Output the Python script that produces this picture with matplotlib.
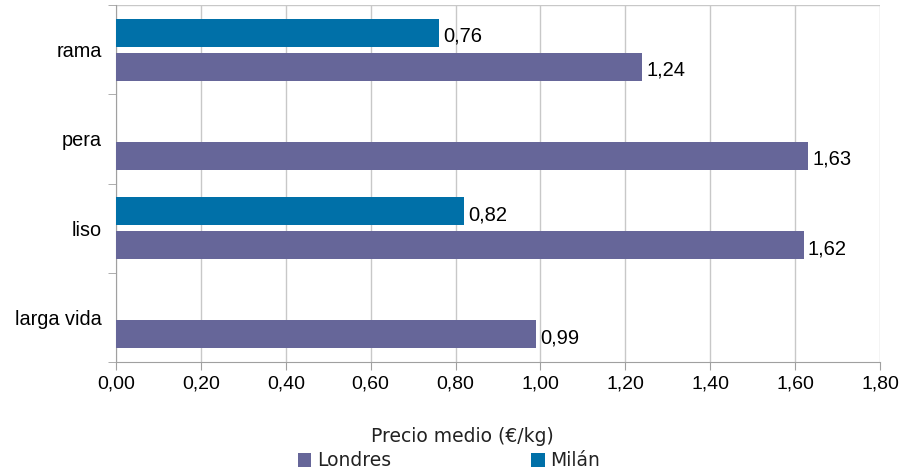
import matplotlib
matplotlib.use("Agg")
import matplotlib.pyplot as plt
import numpy as np

categories = ["rama", "pera", "liso", "larga vida"]
londres = [1.24, 1.63, 1.62, 0.99]
milan = [0.76, np.nan, 0.82, np.nan]
xticks = [0.0, 0.2, 0.4, 0.6, 0.8, 1.0, 1.2, 1.4, 1.6, 1.8]
xticklabels = ["0,00", "0,20", "0,40", "0,60", "0,80", "1,00", "1,20", "1,40", "1,60", "1,80"]

c_lon = "#666699"
c_mil = "#0070A8"
lab_font = ["Liberation Sans", "DejaVu Sans"]

fig = plt.figure(figsize=(9.13, 4.76), dpi=100)
ax = fig.add_axes([116/913, 1-362/476, (880-116)/913, (362-5)/476])

y = np.arange(len(categories))
h = 0.315
off = 0.19
ax.barh(y + off, londres, height=h, color=c_lon, label="Londres", zorder=3)
ax.barh(y - off, milan, height=h, color=c_mil, label="Milán", zorder=3)

def fmt(v):
    return f"{v:.2f}".replace(".", ",")

for yi, v in zip(y, londres):
    ax.text(v + 0.01, yi + off + 0.04, fmt(v), va="center", ha="left", fontsize=14.5,
            family=lab_font, color="black")
for yi, v in zip(y, milan):
    if not np.isnan(v):
        ax.text(v + 0.01, yi - off + 0.04, fmt(v), va="center", ha="left", fontsize=14.5,
                family=lab_font, color="black")

ax.set_ylim(len(categories) - 0.5, -0.5)
ax.set_xlim(0, 1.8)
ax.set_yticks(y)
ax.set_yticklabels(categories, fontsize=14.3, family=lab_font)
ax.set_yticks(np.arange(-0.5, len(categories), 1), minor=True)
ax.tick_params(axis="y", which="major", length=0, pad=10)
ax.tick_params(axis="y", which="minor", length=6, color="#a0a0a0", direction="out")
ax.set_xticks(xticks)
ax.set_xticklabels(xticklabels, fontsize=14, family=lab_font)
ax.tick_params(axis="x", length=6, color="#a0a0a0", pad=4, direction="out")
ax.grid(axis="x", color="#c8c8c8", linewidth=1, zorder=0)

for s in ["top", "right"]:
    ax.spines[s].set_visible(False)
ax.spines["left"].set_color("#a0a0a0")
ax.spines["bottom"].set_color("#a0a0a0")
ax.axhline(-0.5, color="#c8c8c8", linewidth=1, zorder=0)

fig.text(462/913, 1-436/476, "Precio medio (€/kg)", fontsize=13.5, family="DejaVu Sans",
         ha="center", va="center", color="#222222")

fig.legend(loc="center", bbox_to_anchor=(449/913, 1-461/476), ncol=2, frameon=False,
           columnspacing=7.5, handlelength=0.7, handleheight=0.7, handletextpad=0.3,
           prop={"family": "DejaVu Sans", "size": 13.5}, labelcolor="#222222")

fig.savefig("out.png", dpi=100)
